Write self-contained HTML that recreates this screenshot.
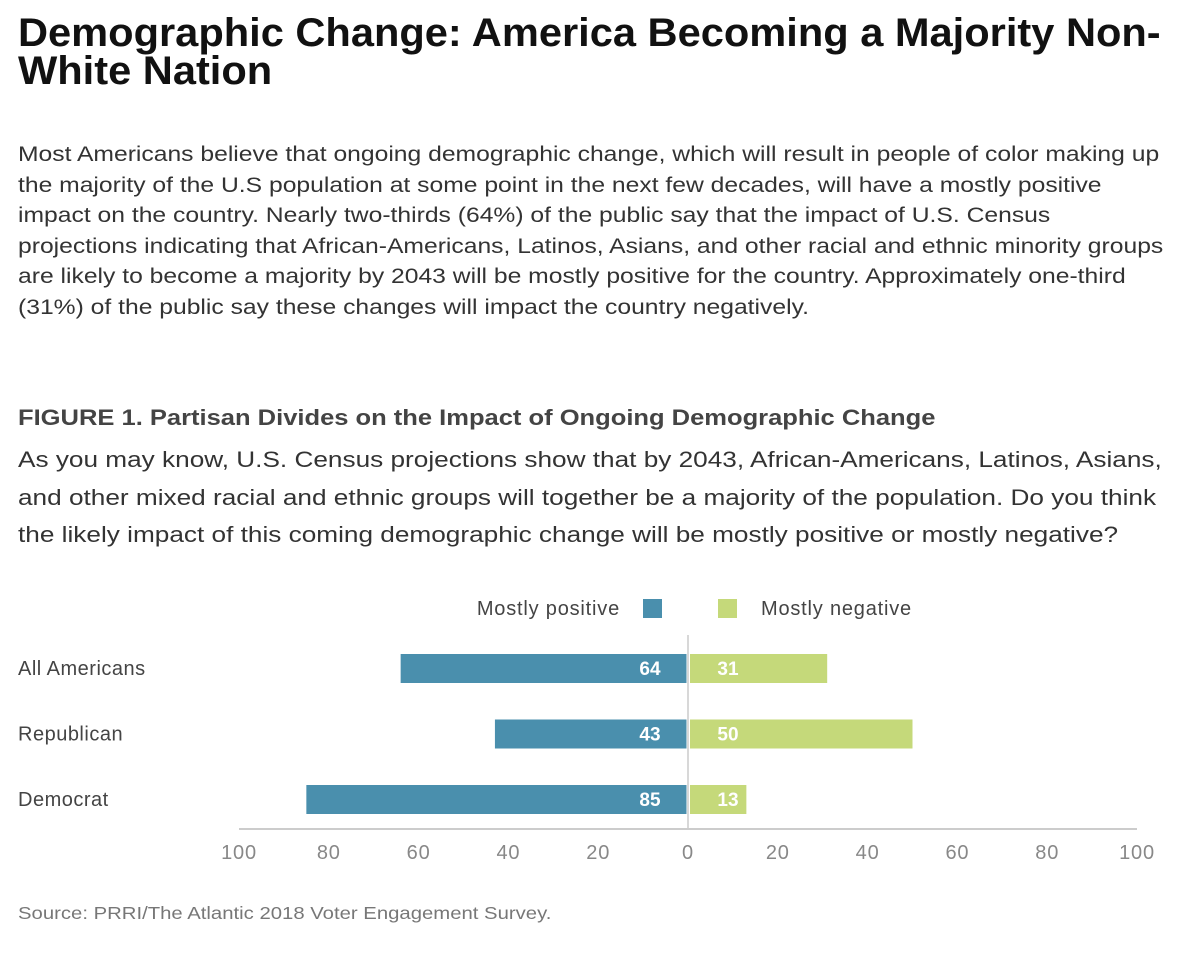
<!DOCTYPE html>
<html><head><meta charset="utf-8">
<style>
body{margin:0;width:1200px;height:961px;background:#fff;font-family:"Liberation Sans",sans-serif;position:relative;overflow:hidden}
.a{position:absolute;white-space:nowrap}
h1{position:absolute;left:18px;top:14px;margin:0;font-size:40px;line-height:38px;font-weight:bold;color:#111;transform:scaleX(1.04);transform-origin:left top;white-space:nowrap}
.body div{height:30.5px;line-height:30.5px;font-size:21px;color:#333;transform:scaleX(1.175);transform-origin:left center}
.q div{height:37.5px;line-height:37.5px;font-size:22px;color:#333;transform:scaleX(1.19);transform-origin:left center}
</style></head><body>
<h1>Demographic Change: America Becoming a Majority Non-<br>White Nation</h1>
<div class="a body" style="left:18px;top:140px">
<div>Most Americans believe that ongoing demographic change, which will result in people of color making up</div>
<div>the majority of the U.S population at some point in the next few decades, will have a mostly positive</div>
<div>impact on the country. Nearly two-thirds (64%) of the public say that the impact of U.S. Census</div>
<div>projections indicating that African-Americans, Latinos, Asians, and other racial and ethnic minority groups</div>
<div>are likely to become a majority by 2043 will be mostly positive for the country. Approximately one-third</div>
<div>(31%) of the public say these changes will impact the country negatively.</div>
</div>
<div class="a" style="left:18px;top:405px;font-size:22px;font-weight:bold;color:#444;transform:scaleX(1.16);transform-origin:left top">FIGURE 1. Partisan Divides on the Impact of Ongoing Demographic Change</div>
<div class="a q" style="left:18px;top:441px">
<div>As you may know, U.S. Census projections show that by 2043, African-Americans, Latinos, Asians,</div>
<div>and other mixed racial and ethnic groups will together be a majority of the population. Do you think</div>
<div>the likely impact of this coming demographic change will be mostly positive or mostly negative?</div>
</div>
<svg id="chart" class="a" style="left:0;top:580px" width="1200" height="300"></svg>
<div class="a" style="left:18px;top:903px;font-size:17.5px;color:#777;transform:scaleX(1.16);transform-origin:left top">Source: PRRI/The Atlantic 2018 Voter Engagement Survey.</div>
<script>
const categories=["All Americans","Republican","Democrat"];
const positive=[64,43,85];
const negative=[31,50,13];
const ticks=[100,80,60,40,20,0,20,40,60,80,100];
const tickVals=[-100,-80,-60,-40,-20,0,20,40,60,80,100];
const NS="http://www.w3.org/2000/svg";
const svg=document.getElementById('chart');
const x0=688,scale=4.49,OY=580;
const xs=v=>x0+v*scale;
const rowY=i=>654+i*65.5-OY;
const FF='Liberation Sans, sans-serif';
function mk(t,a){const e=document.createElementNS(NS,t);for(const k in a)e.setAttribute(k,a[k]);svg.appendChild(e);return e;}
let t=mk('text',{x:620,y:35,'text-anchor':'end','font-size':20,'letter-spacing':0.8,fill:'#444','font-family':FF});t.textContent='Mostly positive';

let r=mk('rect',{x:643,y:19,width:19,height:19,fill:'#4a8fad'});

r=mk('rect',{x:718,y:19,width:19,height:19,fill:'#c5d97a'});

t=mk('text',{x:761,y:35,'font-size':20,'letter-spacing':0.8,fill:'#444','font-family':FF});t.textContent='Mostly negative';

let l=mk('line',{x1:x0,x2:x0,y1:55,y2:249,stroke:'#ccc','stroke-width':1.5});

categories.forEach((c,i)=>{
  const y=rowY(i),h=29;
  let lab=mk('text',{x:18,y:y+21,'font-size':20,'letter-spacing':0.5,fill:'#444','font-family':FF});lab.textContent=c;
  
  let b=mk('rect',{x:xs(-positive[i]),y:y,width:positive[i]*scale-1.5,height:h,fill:'#4a8fad'});
  
  let g=mk('rect',{x:x0+2,y:y,width:negative[i]*scale-2,height:h,fill:'#c5d97a'});
  
  let v=mk('text',{x:x0-38,y:y+21,'text-anchor':'middle','font-size':19,'font-weight':'bold',fill:'#fff','font-family':FF});v.textContent=positive[i];
  
  let w=mk('text',{x:x0+40,y:y+21,'text-anchor':'middle','font-size':19,'font-weight':'bold',fill:'#fff','font-family':FF});w.textContent=negative[i];
  
});
l=mk('line',{x1:xs(-100),x2:xs(100),y1:249,y2:249,stroke:'#ccc','stroke-width':2});

tickVals.forEach((v,i)=>{
  let tk=mk('text',{x:xs(v),y:279,'text-anchor':'middle','font-size':20,'letter-spacing':0.8,fill:'#888','font-family':FF});tk.textContent=ticks[i];
  
});
</script>
</body></html>
